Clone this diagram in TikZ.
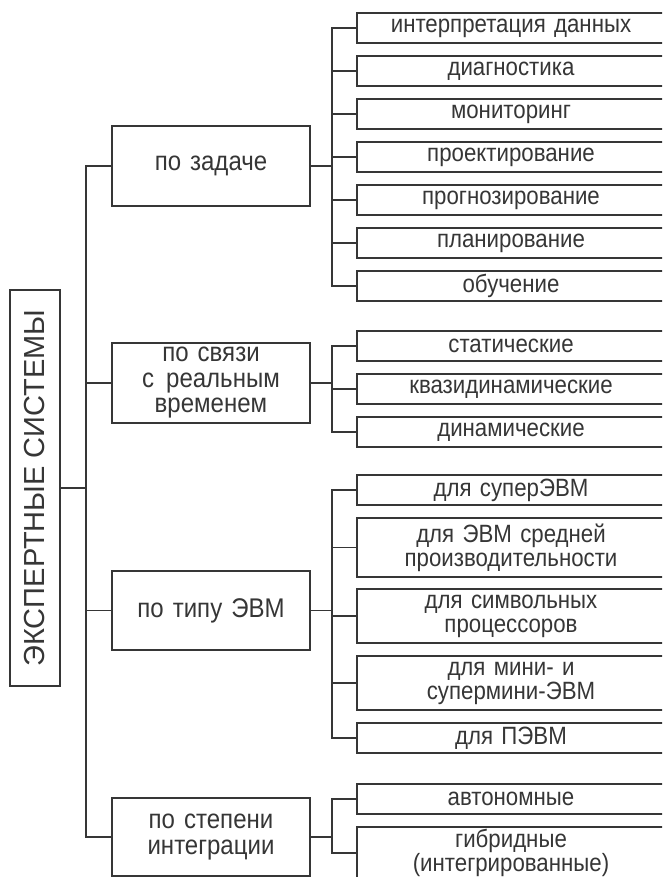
\documentclass[tikz,border=0pt]{standalone}
\usepackage{fontspec}
\setmainfont{Liberation Sans}[FakeStretch=0.89]
\newfontfamily\rootfont{Liberation Sans}
\usetikzlibrary{positioning}

\definecolor{ink}{HTML}{363636}

\tikzset{
	leaf/.style = {draw = ink, line width = 1.6pt, text = ink, outer sep = 0pt,
		minimum width = 308pt, minimum height = 30pt, text width = 290pt,
		align = center, inner sep = 0pt, anchor = north west,
		font = \fontsize{25}{24}\selectfont},
	group/.style = {draw = ink, line width = 1.6pt, text = ink, outer sep = 0pt,
		minimum width = 198pt, minimum height = 80pt, text width = 190pt,
		align = center, inner sep = 0pt, anchor = north west,
		font = \fontsize{27}{25.5}\selectfont},
	link/.style = {draw = ink, line width = 1.6pt},
}

\begin{document}
\begin{tikzpicture}[x=1pt, y=-1pt]
	\clip (0,0) rectangle (662,877);
	\fill[white] (0,0) rectangle (662,877);

	% root
	\node [draw = ink, line width = 1.6pt, outer sep = 0pt, minimum width = 50pt,
		minimum height = 396pt, inner sep = 0pt, anchor = north west]
		(es) at (10,290) {};
	\node [rotate = 90, text = ink, font = \rootfont\fontsize{29}{29}\selectfont]
		(est) at (es.center) {ЭКСПЕРТНЫЕ СИСТЕМЫ};

	% groups
	\node [group] (zad) at (112,126) {по задаче};
	\node [group] (svz) at (112,343) {по связи\\с\hspace{12pt}реальным\\временем};
	\node [group, minimum height = 79pt] (tip) at (112,571) {по типу ЭВМ};
	\node [group, minimum height = 78pt] (int) at (112,798) {по степени\\интеграции};

	% по задаче
	\node [leaf] (z1) at (357,13) {интерпретация данных};
	\node [leaf, below = 13pt of z1] (z2) {диагностика};
	\node [leaf, below = 13pt of z2] (z3) {мониторинг};
	\node [leaf, below = 13pt of z3] (z4) {проектирование};
	\node [leaf, below = 13pt of z4] (z5) {прогнозирование};
	\node [leaf, below = 13pt of z5] (z6) {планирование};
	\node [leaf, below = 13pt of z6] (z7) {обучение};

	% по связи с реальным временем
	\node [leaf] (s1) at (357,331) {статические};
	\node [leaf, below = 13pt of s1] (s2) {квазидинамические};
	\node [leaf, below = 13pt of s2] (s3) {динамические};

	% по типу ЭВМ
	\node [leaf] (t1) at (357,475) {для суперЭВМ};
	\node [leaf, minimum height = 59pt, below = 13pt of t1] (t2) {для ЭВМ средней\\производительности};
	\node [leaf, minimum height = 54pt, below = 12pt of t2] (t3) {для символьных\\процессоров};
	\node [leaf, minimum height = 54pt, below = 13pt of t3] (t4) {для мини- и\\супермини-ЭВМ};
	\node [leaf, below = 13pt of t4] (t5) {для ПЭВМ};

	% по степени интеграции
	\node [leaf] (i1) at (357,784) {автономные};
	\node [leaf, minimum height = 52pt, below = 13pt of i1] (i2) {гибридные\\(интегрированные)};

	% trunks
	\coordinate (mt) at (86,0);
	\coordinate (rt) at (332,0);

	\draw [link] (es.east) -- (es.east -| mt);
	\draw [link] (zad.west) -- (zad.west -| mt) -- (int.west -| mt) -- (int.west);
	\draw [link] (svz.west) -- (svz.west -| mt);
	\draw [link] (tip.west) -- (tip.west -| mt);

	\draw [link] (z1.west) -- (z1.west -| rt) -- (z7.west -| rt) -- (z7.west);
	\foreach \n in {2,...,6}
		\draw [link] (z\n.west) -- (z\n.west -| rt);
	\draw [link] (zad.east) -- (zad.east -| rt);

	\draw [link] (s1.west) -- (s1.west -| rt) -- (s3.west -| rt) -- (s3.west);
	\draw [link] (s2.west) -- (s2.west -| rt);
	\draw [link] (svz.east) -- (svz.east -| rt);

	\draw [link] (t1.west) -- (t1.west -| rt) -- (t5.west -| rt) -- (t5.west);
	\foreach \n in {2,3,4}
		\draw [link] (t\n.west) -- (t\n.west -| rt);
	\draw [link] (tip.east) -- (tip.east -| rt);

	\draw [link] (i1.west) -- (i1.west -| rt) -- (i2.west -| rt) -- (i2.west);
	\draw [link] (int.east) -- (int.east -| rt);
\end{tikzpicture}
\end{document}
